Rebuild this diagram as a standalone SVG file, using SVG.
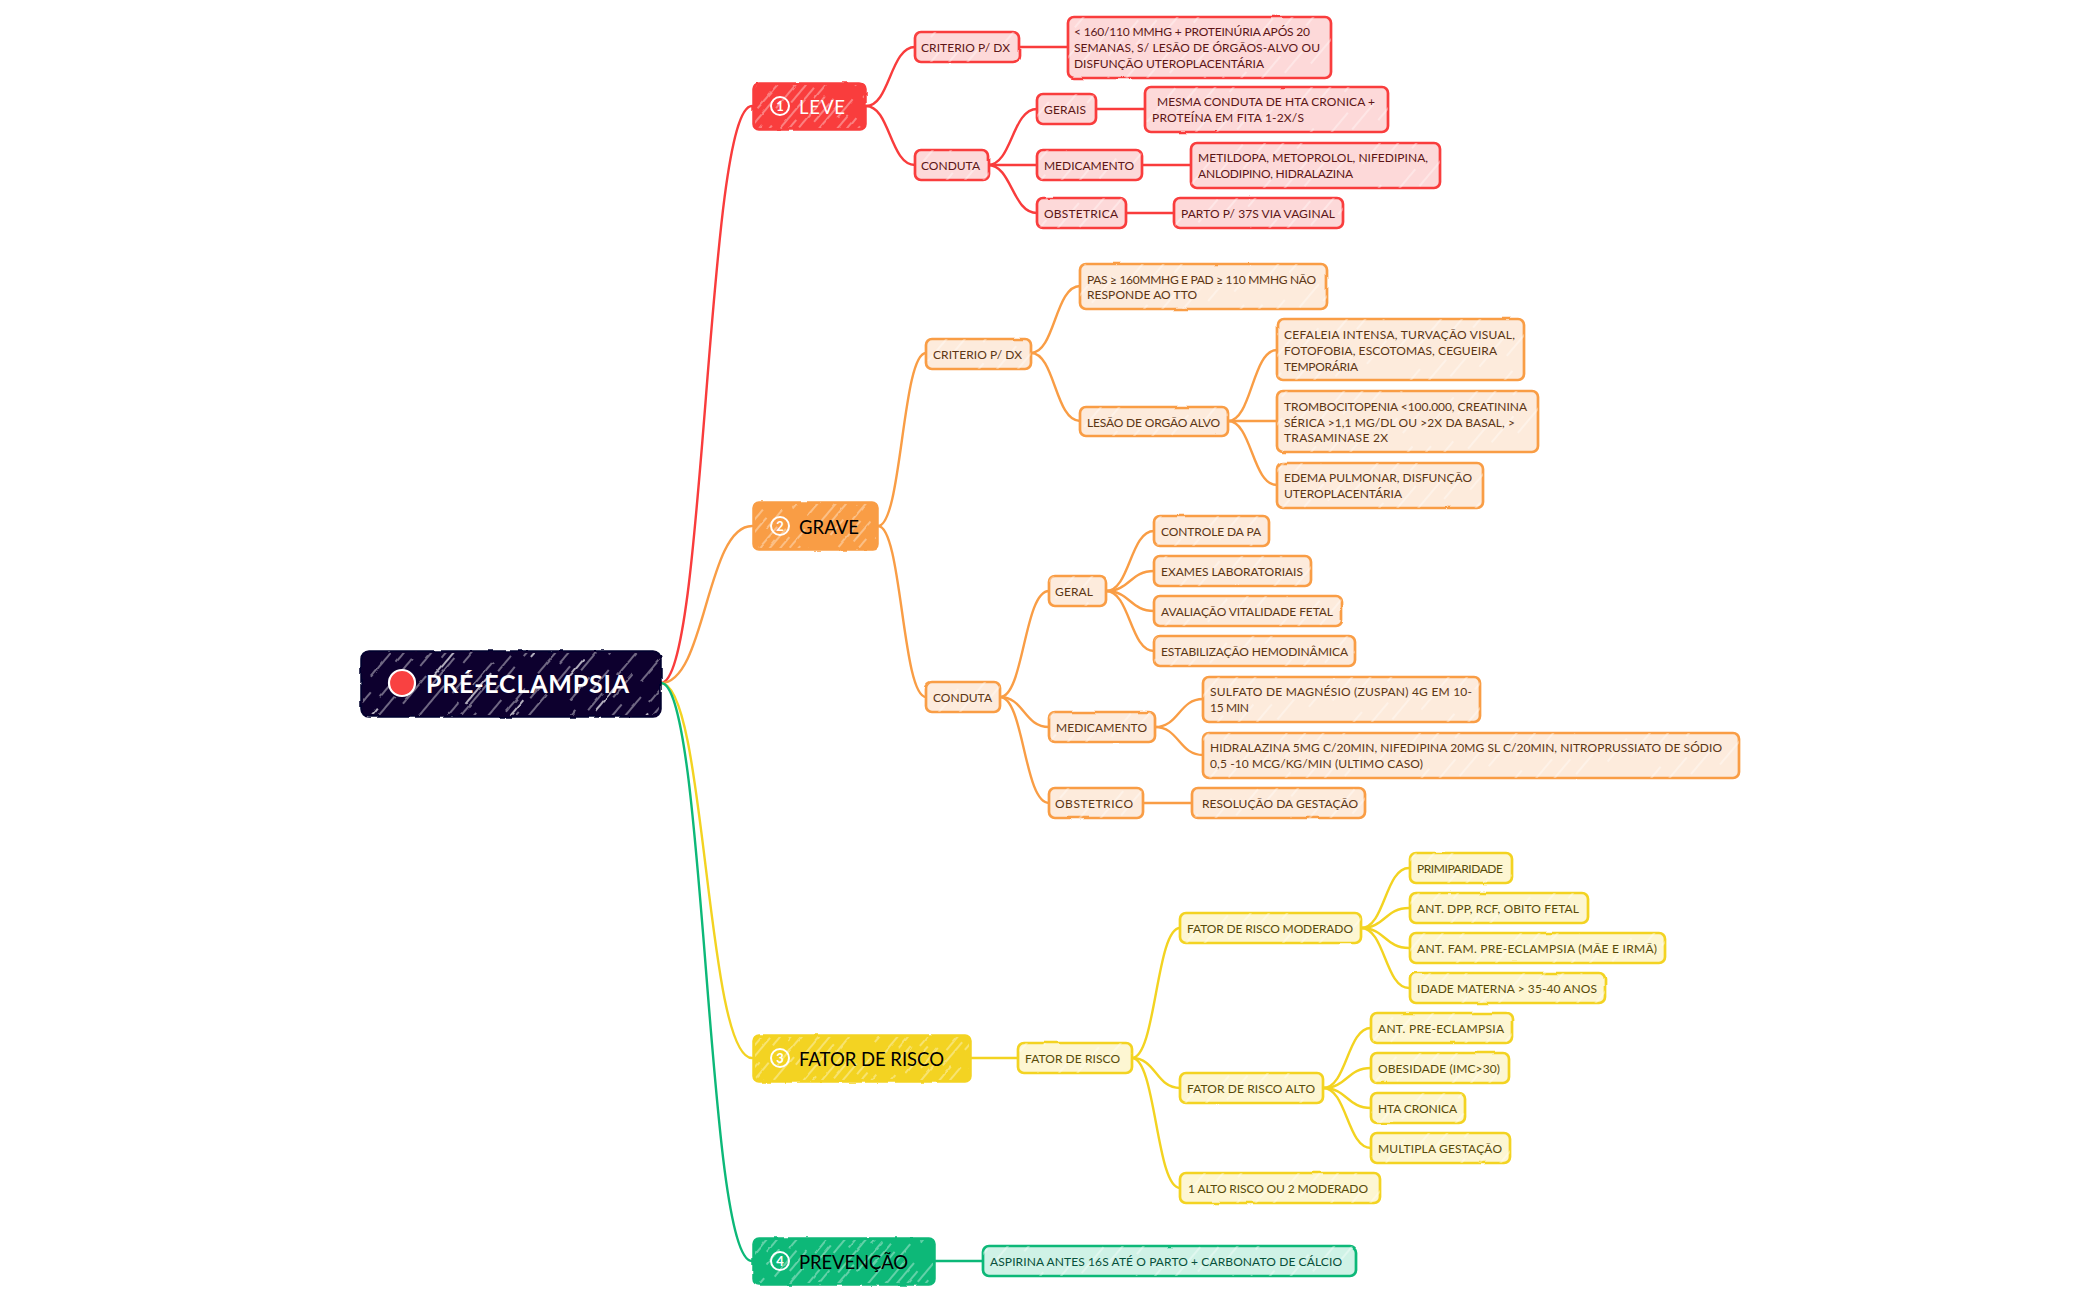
<svg xmlns="http://www.w3.org/2000/svg" width="2100" height="1300" viewBox="0 0 2100 1300">
<style>
text{font-family:"Lato","Noto Sans",sans-serif;font-size:12px;font-weight:400;transform:translateY(0.5px)}
.con path{fill:none;stroke-width:2.4;stroke-linecap:round}
.r{stroke:#f93c3c}.o{stroke:#f99d45}.y{stroke:#f3d321}.g{stroke:#0cb878}
.box{stroke-width:2.7;filter:url(#roughS)}
.hat{fill:url(#hl);stroke:none}
.hatM{fill:url(#hm);stroke:none;filter:url(#rough)}
.hatS{fill:url(#hs);stroke:none;filter:url(#rough)}
.lr{fill:#fdd9d9}.lo{fill:#fdebdc}.ly{fill:#fdf6d2}.lg{fill:#cff2e6}
.tr{fill:#5c1616}.to{fill:#5c3614}.ty{fill:#584b0a}.tg{fill:#07503a}
.main{stroke-width:1.5;filter:url(#rough)}
.mt{font-size:18.500px;fill:#000}
.num{font-size:13px;font-weight:700;fill:#fff;text-anchor:middle}
.nc{fill:none;stroke:#fff;stroke-width:2}
</style>
<defs>
<filter id="rough" x="-5%" y="-10%" width="110%" height="120%"><feTurbulence type="fractalNoise" baseFrequency="0.09" numOctaves="2" seed="4"/><feDisplacementMap in="SourceGraphic" scale="2.4" xChannelSelector="R" yChannelSelector="G"/></filter>
<filter id="roughS" x="-5%" y="-10%" width="110%" height="120%"><feTurbulence type="fractalNoise" baseFrequency="0.03" numOctaves="1" seed="7"/><feDisplacementMap in="SourceGraphic" scale="2.2" xChannelSelector="R" yChannelSelector="G"/></filter>
<pattern id="hl" width="150" height="44" patternUnits="userSpaceOnUse" patternTransform="rotate(-50)">
<g stroke="#fff" fill="none" stroke-width="1.1" opacity=".7"><path d="M0 5h30M70 5h46M20 19h34M96 19h32M44 33h44M120 33h26"/></g>
</pattern>
<pattern id="hm" width="120" height="30" patternUnits="userSpaceOnUse" patternTransform="rotate(-50)">
<g stroke="#fff" fill="none" stroke-width="1.1" opacity=".7"><path d="M0 4h34M56 4h40M14 12h26M70 12h30M4 20h20M44 20h52M30 27h30M88 27h24"/></g>
</pattern>
<pattern id="hs" width="170" height="42" patternUnits="userSpaceOnUse" patternTransform="rotate(-50)">
<g stroke="#fff" fill="none" opacity=".9"><path stroke-width=".9" d="M0 5h30M60 5h36M120 5h30M22 15h26M88 15h40M146 15h20M4 25h22M50 25h50M130 25h30M30 36h30M100 36h26"/><path stroke-width="1.7" d="M100 11h40M8 31h32"/></g>
</pattern>
</defs>
<g id="connectors" class="con">
<path class="r" d="M661 683C706 683 706 106 752 106"/>
<path class="o" d="M661 683C706 683 706 526 752 526"/>
<path class="y" d="M661 683C706 683 706 1058 752 1058"/>
<path class="g" d="M661 683C706 683 706 1261 752 1261"/>
<path class="r" d="M866 106C890 106 890 47 915 47"/>
<path class="r" d="M866 106C890 106 890 165 915 165"/>
<path class="r" d="M1019 47H1068"/>
<path class="r" d="M988 165C1012 165 1012 109 1037 109"/>
<path class="r" d="M988 165H1037"/>
<path class="r" d="M988 165C1012 165 1012 213 1037 213"/>
<path class="r" d="M1096 109H1145"/>
<path class="r" d="M1142 165H1191"/>
<path class="r" d="M1126 213H1174"/>
<path class="o" d="M878 526C902 526 902 353 926 353"/>
<path class="o" d="M878 526C902 526 902 697 926 697"/>
<path class="o" d="M1031 353C1055 353 1055 286 1080 286"/>
<path class="o" d="M1031 353C1055 353 1055 421 1080 421"/>
<path class="o" d="M1228 421C1252 421 1252 350 1277 350"/>
<path class="o" d="M1228 421H1277"/>
<path class="o" d="M1228 421C1252 421 1252 485 1277 485"/>
<path class="o" d="M1000 697C1024 697 1024 591 1049 591"/>
<path class="o" d="M1000 697C1024 697 1024 727 1049 727"/>
<path class="o" d="M1000 697C1024 697 1024 803 1049 803"/>
<path class="o" d="M1106 591C1130 591 1130 531 1154 531"/>
<path class="o" d="M1106 591C1130 591 1130 571 1154 571"/>
<path class="o" d="M1106 591C1130 591 1130 611 1154 611"/>
<path class="o" d="M1106 591C1130 591 1130 651 1154 651"/>
<path class="o" d="M1155 727C1179 727 1179 699 1203 699"/>
<path class="o" d="M1155 727C1179 727 1179 755 1203 755"/>
<path class="o" d="M1143 803H1192"/>
<path class="y" d="M971 1058H1018"/>
<path class="y" d="M1132 1058C1156 1058 1156 928 1180 928"/>
<path class="y" d="M1132 1058C1156 1058 1156 1088 1180 1088"/>
<path class="y" d="M1132 1058C1156 1058 1156 1188 1180 1188"/>
<path class="y" d="M1361 928C1385 928 1385 868 1409 868"/>
<path class="y" d="M1361 928C1385 928 1385 908 1409 908"/>
<path class="y" d="M1361 928C1385 928 1385 948 1409 948"/>
<path class="y" d="M1361 928C1385 928 1385 988 1409 988"/>
<path class="y" d="M1323 1088C1347 1088 1347 1028 1371 1028"/>
<path class="y" d="M1323 1088C1347 1088 1347 1068 1371 1068"/>
<path class="y" d="M1323 1088C1347 1088 1347 1108 1371 1108"/>
<path class="y" d="M1323 1088C1347 1088 1347 1148 1371 1148"/>
<path class="g" d="M935 1261H983"/>
</g>
<g id="root"><rect x="361" y="651" width="300" height="66" rx="8" fill="#07052e" stroke="#07052e" stroke-width="1.5" filter="url(#rough)"/><rect class="hatS" x="363" y="653" width="296" height="62" rx="7"/><circle cx="402" cy="683" r="13" fill="#f94141" stroke="#fff" stroke-width="2.2"/><text x="426" y="692.500" style="font-size:25px;font-weight:700;fill:#fff" textLength="203">PRÉ-ECLAMPSIA</text></g>

<g id="leve"><rect class="main" x="753" y="83" width="113" height="47" rx="6" fill="#f93c3c" stroke="#f93c3c"/><rect class="hatM" x="755" y="85" width="109" height="43" rx="5"/><circle class="nc" cx="780" cy="106" r="9"/><text class="num" x="780" y="110.500">1</text><text class="mt" x="799" y="113" style="fill:#fff" textLength="46">LEVE</text></g>
<g id="leve-crit"><rect class="box lr r" x="915" y="32" width="104" height="30" rx="6"/><rect class="hat" x="915" y="32" width="104" height="30" rx="6"/><text class="tr" x="921" y="51.500" textLength="89">CRITERIO P/ DX</text></g>
<g id="leve-crit-1"><rect class="box lr r" x="1068" y="17" width="263" height="61" rx="6"/><rect class="hat" x="1068" y="17" width="263" height="61" rx="6"/><text class="tr" x="1074" y="35.500" textLength="236">&lt; 160/110 MMHG + PROTEINÚRIA APÓS 20</text><text class="tr" x="1074" y="51.500" textLength="246">SEMANAS, S/ LESÃO DE ÓRGÃOS-ALVO OU</text><text class="tr" x="1074" y="67.500" textLength="190">DISFUNÇÃO UTEROPLACENTÁRIA</text></g>
<g id="leve-cond"><rect class="box lr r" x="915" y="150" width="74" height="30" rx="6"/><rect class="hat" x="915" y="150" width="74" height="30" rx="6"/><text class="tr" x="921" y="169.500" textLength="59">CONDUTA</text></g>
<g id="leve-gerais"><rect class="box lr r" x="1037" y="94" width="59" height="30" rx="6"/><rect class="hat" x="1037" y="94" width="59" height="30" rx="6"/><text class="tr" x="1044" y="113.500" textLength="42">GERAIS</text></g>
<g id="leve-gerais-1"><rect class="box lr r" x="1145" y="87" width="243" height="45" rx="6"/><rect class="hat" x="1145" y="87" width="243" height="45" rx="6"/><text class="tr" x="1157" y="105" textLength="218">MESMA CONDUTA DE HTA CRONICA +</text><text class="tr" x="1152" y="121" textLength="152">PROTEÍNA EM FITA 1-2X/S</text></g>
<g id="leve-med"><rect class="box lr r" x="1037" y="150" width="105" height="30" rx="6"/><rect class="hat" x="1037" y="150" width="105" height="30" rx="6"/><text class="tr" x="1044" y="169.500" textLength="90">MEDICAMENTO</text></g>
<g id="leve-med-1"><rect class="box lr r" x="1191" y="143" width="249" height="45" rx="6"/><rect class="hat" x="1191" y="143" width="249" height="45" rx="6"/><text class="tr" x="1198" y="161" textLength="230">METILDOPA, METOPROLOL, NIFEDIPINA,</text><text class="tr" x="1198" y="177" textLength="155">ANLODIPINO, HIDRALAZINA</text></g>
<g id="leve-obs"><rect class="box lr r" x="1037" y="198" width="89" height="30" rx="6"/><rect class="hat" x="1037" y="198" width="89" height="30" rx="6"/><text class="tr" x="1044" y="217.500" textLength="74">OBSTETRICA</text></g>
<g id="leve-obs-1"><rect class="box lr r" x="1174" y="198" width="169" height="30" rx="6"/><rect class="hat" x="1174" y="198" width="169" height="30" rx="6"/><text class="tr" x="1181" y="217.500" textLength="154">PARTO P/ 37S VIA VAGINAL</text></g>

<g id="grave"><rect class="main" x="753" y="502" width="125" height="48" rx="6" fill="#f99d45" stroke="#f99d45"/><rect class="hatM" x="755" y="504" width="121" height="44" rx="5"/><circle class="nc" cx="780" cy="526" r="9"/><text class="num" x="780" y="530.500">2</text><text class="mt" x="799" y="533" textLength="60">GRAVE</text></g>
<g id="grave-crit"><rect class="box lo o" x="926" y="339" width="105" height="30" rx="6"/><rect class="hat" x="926" y="339" width="105" height="30" rx="6"/><text class="to" x="933" y="358" textLength="89">CRITERIO P/ DX</text></g>
<g id="grave-pas"><rect class="box lo o" x="1080" y="264" width="247" height="45" rx="6"/><rect class="hat" x="1080" y="264" width="247" height="45" rx="6"/><text class="to" x="1087" y="283" textLength="229">PAS ≥ 160MMHG E PAD ≥ 110 MMHG NÃO</text><text class="to" x="1087" y="298" textLength="110">RESPONDE AO TTO</text></g>
<g id="grave-lesao"><rect class="box lo o" x="1080" y="407" width="148" height="29" rx="6"/><rect class="hat" x="1080" y="407" width="148" height="29" rx="6"/><text class="to" x="1087" y="426" textLength="133">LESÃO DE ORGÃO ALVO</text></g>
<g id="grave-cef"><rect class="box lo o" x="1277" y="319" width="247" height="61" rx="6"/><rect class="hat" x="1277" y="319" width="247" height="61" rx="6"/><text class="to" x="1284" y="338" textLength="231">CEFALEIA INTENSA, TURVAÇÃO VISUAL,</text><text class="to" x="1284" y="354" textLength="213">FOTOFOBIA, ESCOTOMAS, CEGUEIRA</text><text class="to" x="1284" y="370" textLength="74">TEMPORÁRIA</text></g>
<g id="grave-trom"><rect class="box lo o" x="1277" y="391" width="261" height="61" rx="6"/><rect class="hat" x="1277" y="391" width="261" height="61" rx="6"/><text class="to" x="1284" y="410" textLength="243">TROMBOCITOPENIA &lt;100.000, CREATININA</text><text class="to" x="1284" y="426" textLength="231">SÉRICA &gt;1,1 MG/DL OU &gt;2X DA BASAL, &gt;</text><text class="to" x="1284" y="441" textLength="104">TRASAMINASE 2X</text></g>
<g id="grave-edema"><rect class="box lo o" x="1277" y="463" width="206" height="45" rx="6"/><rect class="hat" x="1277" y="463" width="206" height="45" rx="6"/><text class="to" x="1284" y="481" textLength="188">EDEMA PULMONAR, DISFUNÇÃO</text><text class="to" x="1284" y="497" textLength="118">UTEROPLACENTÁRIA</text></g>
<g id="grave-cond"><rect class="box lo o" x="926" y="682" width="74" height="30" rx="6"/><rect class="hat" x="926" y="682" width="74" height="30" rx="6"/><text class="to" x="933" y="701.500" textLength="59">CONDUTA</text></g>
<g id="grave-geral"><rect class="box lo o" x="1049" y="576" width="57" height="30" rx="6"/><rect class="hat" x="1049" y="576" width="57" height="30" rx="6"/><text class="to" x="1055" y="595.500" textLength="38">GERAL</text></g>
<g id="grave-pa"><rect class="box lo o" x="1154" y="516" width="115" height="30" rx="6"/><rect class="hat" x="1154" y="516" width="115" height="30" rx="6"/><text class="to" x="1161" y="535.500" textLength="100">CONTROLE DA PA</text></g>
<g id="grave-ex"><rect class="box lo o" x="1154" y="556" width="157" height="30" rx="6"/><rect class="hat" x="1154" y="556" width="157" height="30" rx="6"/><text class="to" x="1161" y="575.500" textLength="142">EXAMES LABORATORIAIS</text></g>
<g id="grave-av"><rect class="box lo o" x="1154" y="596" width="188" height="30" rx="6"/><rect class="hat" x="1154" y="596" width="188" height="30" rx="6"/><text class="to" x="1161" y="615.500" textLength="172">AVALIAÇÃO VITALIDADE FETAL</text></g>
<g id="grave-est"><rect class="box lo o" x="1154" y="636" width="201" height="30" rx="6"/><rect class="hat" x="1154" y="636" width="201" height="30" rx="6"/><text class="to" x="1161" y="655.500" textLength="187">ESTABILIZAÇÃO HEMODINÂMICA</text></g>
<g id="grave-med"><rect class="box lo o" x="1049" y="712" width="106" height="30" rx="6"/><rect class="hat" x="1049" y="712" width="106" height="30" rx="6"/><text class="to" x="1056" y="731.500" textLength="91">MEDICAMENTO</text></g>
<g id="grave-sul"><rect class="box lo o" x="1203" y="677" width="277" height="45" rx="6"/><rect class="hat" x="1203" y="677" width="277" height="45" rx="6"/><text class="to" x="1210" y="695" textLength="262">SULFATO DE MAGNÉSIO (ZUSPAN) 4G EM 10-</text><text class="to" x="1210" y="711" textLength="39">15 MIN</text></g>
<g id="grave-hid"><rect class="box lo o" x="1203" y="733" width="536" height="45" rx="6"/><rect class="hat" x="1203" y="733" width="536" height="45" rx="6"/><text class="to" x="1210" y="751" textLength="512">HIDRALAZINA 5MG C/20MIN, NIFEDIPINA 20MG SL C/20MIN, NITROPRUSSIATO DE SÓDIO</text><text class="to" x="1210" y="767" textLength="213">0,5 -10 MCG/KG/MIN (ULTIMO CASO)</text></g>
<g id="grave-obs"><rect class="box lo o" x="1049" y="788" width="94" height="30" rx="6"/><rect class="hat" x="1049" y="788" width="94" height="30" rx="6"/><text class="to" x="1055" y="807.500" textLength="78">OBSTETRICO</text></g>
<g id="grave-res"><rect class="box lo o" x="1192" y="788" width="173" height="30" rx="6"/><rect class="hat" x="1192" y="788" width="173" height="30" rx="6"/><text class="to" x="1202" y="807.500" textLength="156">RESOLUÇÃO DA GESTAÇÃO</text></g>

<g id="risco"><rect class="main" x="753" y="1035" width="218" height="47" rx="6" fill="#f3d321" stroke="#f3d321"/><rect class="hatM" x="755" y="1037" width="214" height="43" rx="5"/><circle class="nc" cx="780" cy="1058" r="9"/><text class="num" x="780" y="1062.500">3</text><text class="mt" x="799" y="1065" textLength="145">FATOR DE RISCO</text></g>
<g id="risco-f"><rect class="box ly y" x="1018" y="1043" width="114" height="30" rx="6"/><rect class="hat" x="1018" y="1043" width="114" height="30" rx="6"/><text class="ty" x="1025" y="1062.500" textLength="95">FATOR DE RISCO</text></g>
<g id="risco-mod"><rect class="box ly y" x="1180" y="913" width="181" height="30" rx="6"/><rect class="hat" x="1180" y="913" width="181" height="30" rx="6"/><text class="ty" x="1187" y="932.500" textLength="166">FATOR DE RISCO MODERADO</text></g>
<g id="risco-m1"><rect class="box ly y" x="1410" y="853" width="102" height="30" rx="6"/><rect class="hat" x="1410" y="853" width="102" height="30" rx="6"/><text class="ty" x="1417" y="872.500" textLength="86">PRIMIPARIDADE</text></g>
<g id="risco-m2"><rect class="box ly y" x="1410" y="893" width="178" height="30" rx="6"/><rect class="hat" x="1410" y="893" width="178" height="30" rx="6"/><text class="ty" x="1417" y="912.500" textLength="162">ANT. DPP, RCF, OBITO FETAL</text></g>
<g id="risco-m3"><rect class="box ly y" x="1410" y="933" width="255" height="30" rx="6"/><rect class="hat" x="1410" y="933" width="255" height="30" rx="6"/><text class="ty" x="1417" y="952.500" textLength="240">ANT. FAM. PRE-ECLAMPSIA (MÃE E IRMÃ)</text></g>
<g id="risco-m4"><rect class="box ly y" x="1410" y="973" width="195" height="30" rx="6"/><rect class="hat" x="1410" y="973" width="195" height="30" rx="6"/><text class="ty" x="1417" y="992.500" textLength="180">IDADE MATERNA &gt; 35-40 ANOS</text></g>
<g id="risco-alto"><rect class="box ly y" x="1180" y="1073" width="143" height="30" rx="6"/><rect class="hat" x="1180" y="1073" width="143" height="30" rx="6"/><text class="ty" x="1187" y="1092.500" textLength="128">FATOR DE RISCO ALTO</text></g>
<g id="risco-a1"><rect class="box ly y" x="1371" y="1013" width="141" height="30" rx="6"/><rect class="hat" x="1371" y="1013" width="141" height="30" rx="6"/><text class="ty" x="1378" y="1032.500" textLength="126">ANT. PRE-ECLAMPSIA</text></g>
<g id="risco-a2"><rect class="box ly y" x="1371" y="1053" width="138" height="30" rx="6"/><rect class="hat" x="1371" y="1053" width="138" height="30" rx="6"/><text class="ty" x="1378" y="1072.500" textLength="122">OBESIDADE (IMC&gt;30)</text></g>
<g id="risco-a3"><rect class="box ly y" x="1371" y="1093" width="94" height="30" rx="6"/><rect class="hat" x="1371" y="1093" width="94" height="30" rx="6"/><text class="ty" x="1378" y="1112.500" textLength="79">HTA CRONICA</text></g>
<g id="risco-a4"><rect class="box ly y" x="1371" y="1133" width="139" height="30" rx="6"/><rect class="hat" x="1371" y="1133" width="139" height="30" rx="6"/><text class="ty" x="1378" y="1152.500" textLength="124">MULTIPLA GESTAÇÃO</text></g>
<g id="risco-regra"><rect class="box ly y" x="1180" y="1173" width="200" height="30" rx="6"/><rect class="hat" x="1180" y="1173" width="200" height="30" rx="6"/><text class="ty" x="1188" y="1192.500" textLength="180">1 ALTO RISCO OU 2 MODERADO</text></g>

<g id="prev"><rect class="main" x="753" y="1238" width="182" height="47" rx="6" fill="#0cb878" stroke="#0cb878"/><rect class="hatM" x="755" y="1240" width="178" height="43" rx="5"/><circle class="nc" cx="780" cy="1261" r="9"/><text class="num" x="780" y="1265.500">4</text><text class="mt" x="799" y="1268" textLength="109">PREVENÇÃO</text></g>
<g id="prev-1"><rect class="box lg g" x="983" y="1246" width="373" height="30" rx="6"/><rect class="hat" x="983" y="1246" width="373" height="30" rx="6"/><text class="tg" x="990" y="1265.500" textLength="352">ASPIRINA ANTES 16S ATÉ O PARTO + CARBONATO DE CÁLCIO</text></g>
</svg>
